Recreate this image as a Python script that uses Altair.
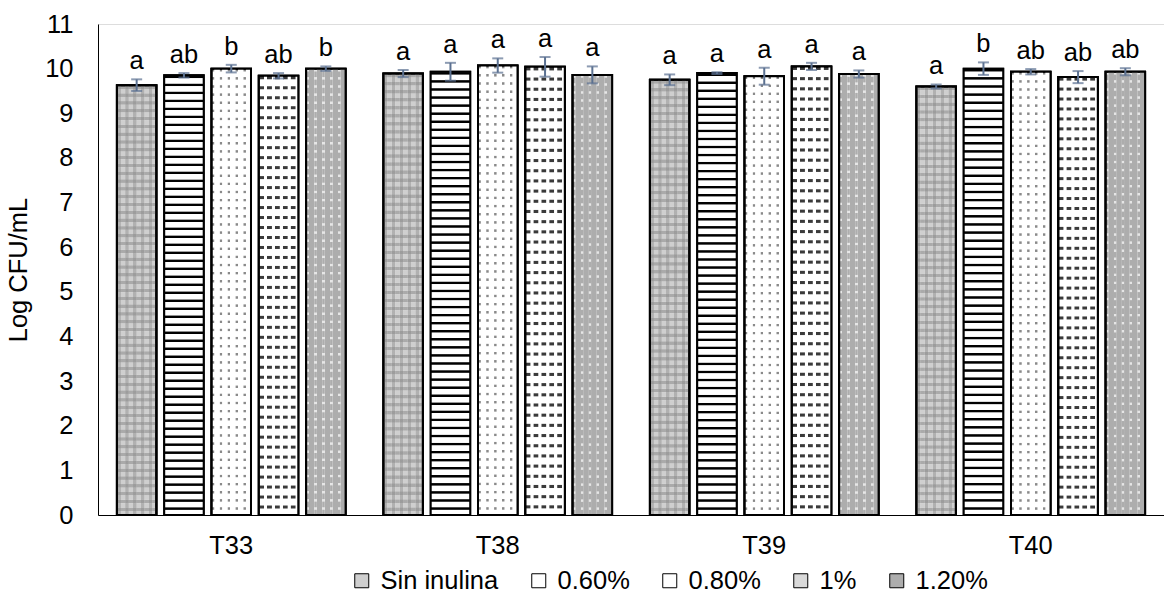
import altair as alt
import pandas as pd

FONT = "Liberation Sans"
FS = 25.5

# Sampling times and inulin treatments
groups = ["T33", "T38", "T39", "T40"]
series = ["Sin inulina", "0.60%", "0.80%", "1%", "1.20%"]

# Mean Log CFU/mL per treatment, one value per sampling time
means = {
    "Sin inulina": [9.63, 9.89, 9.75, 9.60],
    "0.60%": [9.85, 9.93, 9.90, 10.00],
    "0.80%": [10.00, 10.07, 9.83, 9.93],
    "1%": [9.84, 10.04, 10.05, 9.81],
    "1.20%": [10.00, 9.86, 9.88, 9.93],
}

# Standard deviations
errors = {
    "Sin inulina": [0.13, 0.08, 0.12, 0.045],
    "0.60%": [0.05, 0.20, 0.02, 0.14],
    "0.80%": [0.085, 0.16, 0.19, 0.06],
    "1%": [0.06, 0.22, 0.08, 0.135],
    "1.20%": [0.05, 0.19, 0.08, 0.08],
}

# Significance letters
letters = {
    "Sin inulina": ["a", "a", "a", "a"],
    "0.60%": ["ab", "a", "a", "b"],
    "0.80%": ["b", "a", "a", "ab"],
    "1%": ["ab", "a", "a", "ab"],
    "1.20%": ["b", "a", "a", "ab"],
}

rows = []
for s in series:
    for g, m, e, l in zip(groups, means[s], errors[s], letters[s]):
        rows.append({"group": g, "series": s, "mean": m, "lo": m - e, "hi": m + e, "letter": l})
df = pd.DataFrame(rows)

# Base tones for the legend keys and bar backgrounds
fills = ["#cfcfcf", "#ffffff", "#ffffff", "#d9d9d9", "#adadad"]
err_color = "#5b7191"
y_title = "Log CFU/mL"


def stripes(n, ink, paper, frac, vertical=True, ramp=0.1):
    """Hatching built from a linear gradient; short ramps soften the edges."""
    stops = []
    for i in range(n):
        a = i / n
        b = (i + ramp) / n
        c = (i + ramp + frac) / n
        d = (i + 2 * ramp + frac) / n
        e = (i + 1) / n
        stops += [
            alt.GradientStop(color=paper, offset=a),
            alt.GradientStop(color=ink, offset=b),
            alt.GradientStop(color=ink, offset=c),
            alt.GradientStop(color=paper, offset=d),
            alt.GradientStop(color=paper, offset=e),
        ]
    if vertical:
        return alt.LinearGradient(gradient="linear", stops=stops, x1=0, x2=0, y1=0, y2=1)
    return alt.LinearGradient(gradient="linear", stops=stops, x1=0, x2=1, y1=0, y2=0)


x = alt.X(
    "group:N",
    sort=groups,
    title=None,
    scale=alt.Scale(paddingInner=0, paddingOuter=0),
    axis=alt.Axis(
        labelAngle=0, ticks=False, tickSize=0, domainColor="black", domainWidth=1,
        labelFontSize=FS, labelColor="black", labelFont=FONT, labelPadding=18,
    ),
)
xo = alt.XOffset(
    "series:N", sort=series,
    scale=alt.Scale(domain=series, paddingInner=0.165, paddingOuter=0.40),
)
y_axis = alt.Axis(
    values=list(range(12)), ticks=False, tickSize=0, grid=False,
    domainColor="black", domainWidth=1, labelFontSize=FS, labelColor="black",
    labelFont=FONT, labelPadding=25, title=y_title, titleFontSize=FS,
    titleFontWeight="normal", titleFont=FONT, titleColor="black", titlePadding=13,
)
y_scale = alt.Scale(domain=[0, 11], nice=False)

base = alt.Chart(df).encode(x=x, xOffset=xo)

bars = base.mark_bar(stroke="black", strokeWidth=2).encode(
    y=alt.Y("mean:Q", scale=y_scale, axis=y_axis, title=y_title),
    color=alt.Color(
        "series:N",
        scale=alt.Scale(domain=series, range=fills),
        legend=alt.Legend(
            title=None, orient="none", legendX=251, legendY=544,
            direction="horizontal", symbolType="square", symbolSize=196,
            symbolStrokeColor="black", symbolStrokeWidth=1,
            labelFontSize=FS, labelFont=FONT, labelColor="black",
            labelOffset=6, columnPadding=27, gridAlign="none",
        ),
    ),
)


def overlay(name, gradient):
    return base.transform_filter(alt.datum.series == name).mark_bar(
        fill=gradient, stroke="black", strokeWidth=2
    ).encode(y=alt.Y("mean:Q", title=y_title))


clear = "rgba(255,255,255,0)"
layers = [
    bars,
    # Sin inulina: grey lattice
    overlay("Sin inulina", stripes(55, "rgba(140,140,140,0.55)", clear, 0.35)),
    overlay("Sin inulina", stripes(5, "rgba(140,140,140,0.45)", clear, 0.35, vertical=False)),
    # 0.60%: horizontal black lines
    overlay("0.60%", stripes(55, "#000000", "#ffffff", 0.2)),
    # 0.80%: grey dots on white (dot rows masked by white columns)
    overlay("0.80%", stripes(55, "#8a8a8a", "#ffffff", 0.2)),
    overlay("0.80%", stripes(5, clear, "#ffffff", 0.2, vertical=False)),
    # 1%: short dark dashes on white
    overlay("1%", stripes(44, "#3a3a3a", "#ffffff", 0.2)),
    overlay("1%", stripes(5, clear, "#ffffff", 0.5, vertical=False)),
    # 1.20%: white dots on grey
    overlay("1.20%", stripes(55, "#e6e6e6", "#adadad", 0.2)),
    overlay("1.20%", stripes(5, clear, "#adadad", 0.2, vertical=False)),
]

rule = base.mark_rule(color=err_color, strokeWidth=2).encode(
    y=alt.Y("lo:Q", title=y_title), y2="hi:Q"
)
cap_hi = base.mark_tick(color=err_color, thickness=2, size=11, orient="horizontal").encode(
    y=alt.Y("hi:Q", title=y_title)
)
cap_lo = base.mark_tick(color=err_color, thickness=2, size=11, orient="horizontal").encode(
    y=alt.Y("lo:Q", title=y_title)
)
labels = base.mark_text(
    baseline="alphabetic", dy=-10, fontSize=FS, font=FONT, color="black"
).encode(y=alt.Y("hi:Q", title=y_title), text="letter:N")

chart = alt.layer(*layers, rule, cap_hi, cap_lo, labels).properties(
    width=1066,
    height=491,
    autosize=alt.AutoSizeParams(type="none"),
    padding={"left": 98, "top": 24, "right": 0, "bottom": 84},
).configure_view(stroke=None).configure(font=FONT)

chart.save("out.html", embed_options={"renderer": "svg", "actions": False})
